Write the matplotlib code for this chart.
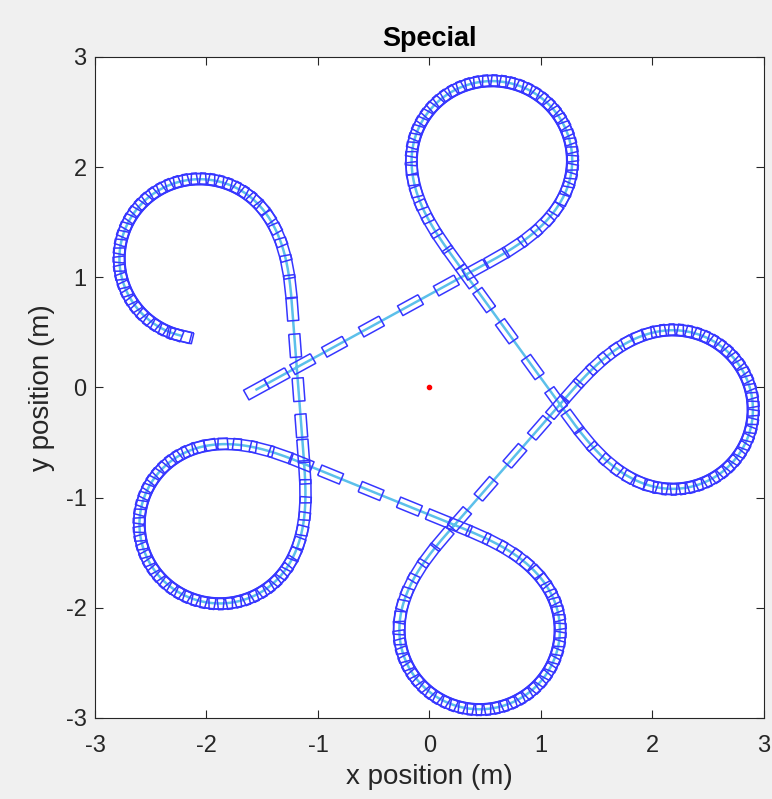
import numpy as np
import matplotlib
matplotlib.use('Agg')
import matplotlib.pyplot as plt
from matplotlib.collections import LineCollection

# centres of the five loops (m)
loop_x = [0.56, 2.18, 0.45, -1.88, -2.06]
loop_y = [2.06, -0.20, -2.20, -1.24, 1.17]

# first and last pose of the vehicle
start_x, start_y = -1.55, -0.02
start_heading = 29.0   # deg
end_heading = 347.0    # deg, vehicle stops part way round the last loop

loop_radius = 0.72     # m
ramp_len = 1.15        # m, curvature ramps in / out of each loop
car_len, car_wid = 0.21, 0.10

# distance travelled between drawn poses
v_loop, v_edge, v_peak = 0.078, 0.21, 0.40

ds = 0.002

plt.rcParams['axes.unicode_minus'] = False
plt.rcParams['font.family'] = ['Liberation Sans', 'DejaVu Sans']


def rot(h):
    return np.array([[np.cos(h), -np.sin(h)], [np.sin(h), np.cos(h)]])


def loop_local(turn, full=True):
    # curvature along one loop turning CCW by 'turn' rad
    k = 1.0 / loop_radius
    ramp_turn = ramp_len * k / 2
    arc = turn - (2 if full else 1) * ramp_turn
    n_r = int(ramp_len / ds)
    n_a = int(arc * loop_radius / ds)
    kr = np.linspace(0, k, n_r)
    parts = [kr, np.full(n_a, k)]
    if full:
        parts.append(kr[::-1])
    kap = np.concatenate(parts)
    th = np.concatenate([[0], np.cumsum(kap * ds)])[:-1]
    xy = np.column_stack([np.cumsum(np.cos(th) * ds), np.cumsum(np.sin(th) * ds)])
    xy = np.vstack([[0, 0], xy[:-1]])
    # centre of the constant curvature part
    p = xy[n_r]
    phi = th[n_r]
    c = p + loop_radius * np.array([-np.sin(phi), np.cos(phi)])
    return xy, th, kap, c


centres = np.column_stack([loop_x, loop_y])
heads = [np.radians(start_heading)]
for i in range(len(centres) - 1):
    d = centres[i + 1] - centres[i]
    heads.append(np.arctan2(d[1], d[0]))

_, _, _, c_loc = loop_local(2 * np.pi * 0.8)

pts, hdg, spd = [], [], []


def add_straight(a, b, h):
    L = np.linalg.norm(b - a)
    n = max(int(L / ds), 2)
    u = np.linspace(0, 1, n, endpoint=False)
    pts.append(a + np.outer(u, b - a))
    hdg.append(np.full(n, h))
    spd.append(v_edge + (v_peak - v_edge) * np.sin(np.pi * u))


# first straight
d0 = np.array([np.cos(heads[0]), np.sin(heads[0])])
P = centres[0] - rot(heads[0]) @ c_loc
L0 = np.dot(P - np.array([start_x, start_y]), d0)
E = P - L0 * d0
for i in range(len(centres)):
    h = heads[i]
    P = centres[i] - rot(h) @ c_loc
    add_straight(E, P, h)
    if i < len(centres) - 1:
        turn = (heads[i + 1] - h) % (2 * np.pi)
        xy, th, kap, _ = loop_local(turn, True)
    else:
        turn = (np.radians(end_heading) - h) % (2 * np.pi)
        xy, th, kap, _ = loop_local(turn, False)
    g = P + xy @ rot(h).T
    pts.append(g)
    hdg.append(h + th)
    spd.append(v_loop + (v_edge - v_loop) * (1 - kap * loop_radius))
    last_dir = np.array([np.cos(h + th[-1]), np.sin(h + th[-1])])
    E = g[-1] + last_dir * ds

pts = np.vstack(pts)
hdg = np.concatenate(hdg)
spd = np.concatenate(spd)
S = np.concatenate([[0], np.cumsum(np.linalg.norm(np.diff(pts, axis=0), axis=1))])

# poses where the vehicle outline is drawn
poses = []
s = 0.0
while s <= S[-1]:
    j = min(np.searchsorted(S, s), len(S) - 1)
    poses.append(j)
    s += spd[j]
poses.append(len(S) - 1)

box = np.array([[1, 1], [-1, 1], [-1, -1], [1, -1], [1, 1]]) * [car_len / 2, car_wid / 2]
outlines = [pts[j] + box @ rot(hdg[j]).T for j in poses]

fig = plt.figure(figsize=(7.72, 7.99), dpi=100, facecolor='#f0f0f0')
ax = fig.add_axes([0.123, 0.1014, 0.8666, 0.8273])

ax.plot(pts[:, 0], pts[:, 1], color='#5cc0ea', lw=1.8, zorder=2)
ax.add_collection(LineCollection(outlines, colors='#3636ff', linewidths=1.1, zorder=3))
ax.plot([0], [0], '.', color='red', markersize=6, zorder=4)

ax.set_xlim(-3, 3)
ax.set_ylim(-3, 3)
ax.set_xticks(range(-3, 4))
ax.set_yticks(range(-3, 4))
ax.tick_params(direction='in', top=True, right=True, length=6, width=0.8,
               labelsize=17, colors='#262626')
ax.tick_params(axis='x', pad=12)
ax.tick_params(axis='y', pad=6)
for sp in ax.spines.values():
    sp.set_color('#262626')
    sp.set_linewidth(0.8)
ax.set_title('Special', fontsize=19.5, fontweight='bold', color='black', pad=8)
ax.set_xlabel('x position (m)', fontsize=20, color='#262626', labelpad=5)
ax.set_ylabel('y position (m)', fontsize=20, color='#262626', labelpad=8)

fig.savefig('out.png', dpi=100, facecolor=fig.get_facecolor())
plt.close()
